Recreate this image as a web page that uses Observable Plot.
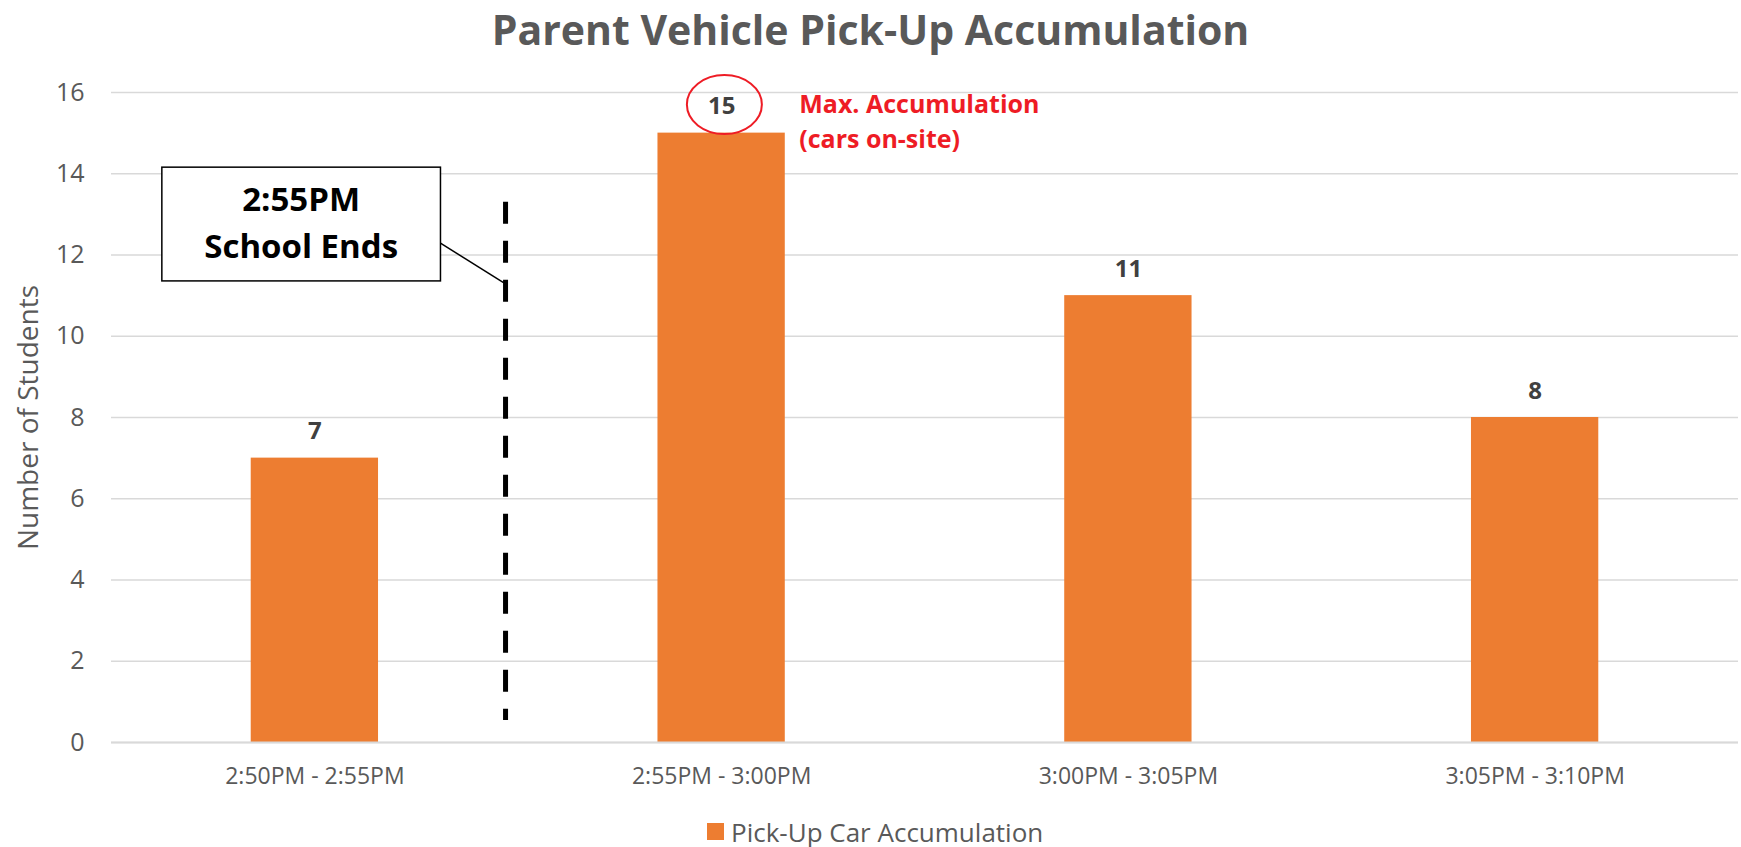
<!DOCTYPE html>
<html>
<head>
<meta charset="utf-8">
<script src="https://cdn.jsdelivr.net/npm/d3@7"></script>
<script src="https://cdn.jsdelivr.net/npm/@observablehq/plot@0.6"></script>
<style>
  html, body { margin: 0; padding: 0; background: #fff; width: 1741px; height: 847px; overflow: hidden; font-family: "Open Sans", sans-serif; }
  #title { height: 70px; line-height: 59px; text-align: center; font-weight: 700; font-size: 41px; color: #595959; white-space: nowrap; }
  #chart { height: 730px; }
  #legend { padding-left: 707px; height: 47px; }
  #legend > div { min-height: 63px !important; align-items: center; font-family: "Open Sans", sans-serif !important; font-size: 26px !important; color: #595959 !important; }
  #legend span { font-family: "Open Sans", sans-serif !important; font-size: 26px !important; color: #595959 !important; margin: 0 !important; }
  #legend svg { margin-right: 7px !important; }
</style>
</head>
<body>
<div id="title"></div>
<div id="chart"></div>
<div id="legend"></div>
<script>
// ---- data ----
const chartTitle = "Parent Vehicle Pick-Up Accumulation";
const timeSlots = ["2:50PM - 2:55PM", "2:55PM - 3:00PM", "3:00PM - 3:05PM", "3:05PM - 3:10PM"];
const pickUpCounts = [7, 15, 11, 8];
const seriesName = "Pick-Up Car Accumulation";
const yTicks = [0, 2, 4, 6, 8, 10, 12, 14, 16];
const yAxisLabel = "Number of Students";
const schoolEndsLines = ["2:55PM", "School Ends"];
const maxNoteLines = ["Max. Accumulation", "(cars on-site)"];

// ---- styles ----
const barColor = "#ED7D31";
const gridColor = "#D9D9D9";
const textColor = "#595959";
const labelColor = "#404040";
const noteRed = "#EE1C25";

const rows = timeSlots.map((slot, i) => ({slot, count: pickUpCounts[i], series: seriesName}));

document.getElementById("title").textContent = chartTitle;

const plot = Plot.plot({
  width: 1741,
  height: 730,
  marginLeft: 111,
  marginRight: 3,
  marginTop: 22,
  marginBottom: 58,
  style: {fontFamily: "Open Sans, sans-serif", color: textColor, background: "transparent", overflow: "visible"},
  x: {domain: timeSlots, paddingInner: 0.687, paddingOuter: 0.3435, round: false, label: null},
  y: {domain: [0, 16], label: null},
  color: {domain: [seriesName], range: [barColor]},
  marks: [
    Plot.gridY(yTicks, {stroke: gridColor, strokeOpacity: 1, strokeWidth: 1.5}),
    Plot.axisY(yTicks, {tickSize: 0, tickPadding: 27, fontSize: 25, label: null, fill: textColor}),
    Plot.axisX({tickSize: 0, tickPadding: 25, fontSize: 23, label: null, fill: textColor}),
    Plot.barY(rows, {x: "slot", y: "count", fill: "series"}),
    Plot.ruleY([0], {stroke: gridColor, strokeWidth: 2}),
    Plot.text(rows, {x: "slot", y: "count", text: d => String(d.count), lineAnchor: "bottom", dy: -19,
      fontSize: 24, fontWeight: "bold", fill: labelColor}),
    Plot.text([yAxisLabel], {frameAnchor: "left", rotate: -90, dx: -82, text: d => d, fontSize: 28,
      fill: textColor, textAnchor: "middle", lineAnchor: "middle"})
  ]
});
document.getElementById("chart").appendChild(plot);

// ---- annotations, placed through the plot's own scales ----
const sx = plot.scale("x"), sy = plot.scale("y");
const c0 = sx.apply(timeSlots[0]) + sx.bandwidth / 2;
const step = sx.apply(timeSlots[1]) - sx.apply(timeSlots[0]);
const X = i => c0 + i * step;   // fractional category index -> px
const Y = v => sy.apply(v);      // value -> px

const ann = {
  dashX: 0.47, dashTop: 13.3, dashBottom: 0.54,
  boxLeft: -0.375, boxRight: 0.31, boxTop: 14.15, boxBottom: 11.35,
  textBase1: 13.06, textBase2: 11.91,
  linkFrom: [0.31, 12.28], linkTo: [0.466, 11.3],
  ellipse: [1.008, 15.69],
  noteX: 1.192, noteBase1: 15.48, noteBase2: 14.62
};

const g = d3.select(plot).append("g").attr("class", "annotations");
g.append("line")
  .attr("x1", X(ann.linkFrom[0])).attr("y1", Y(ann.linkFrom[1]))
  .attr("x2", X(ann.linkTo[0])).attr("y2", Y(ann.linkTo[1]))
  .attr("stroke", "#000").attr("stroke-width", 1.5);
g.append("line")
  .attr("x1", X(ann.dashX)).attr("x2", X(ann.dashX))
  .attr("y1", Y(ann.dashTop)).attr("y2", Y(ann.dashBottom))
  .attr("stroke", "#000").attr("stroke-width", 5).attr("stroke-dasharray", "22 17");
g.append("rect")
  .attr("x", X(ann.boxLeft)).attr("y", Y(ann.boxTop))
  .attr("width", X(ann.boxRight) - X(ann.boxLeft)).attr("height", Y(ann.boxBottom) - Y(ann.boxTop))
  .attr("fill", "#fff").attr("stroke", "#000").attr("stroke-width", 1.5);
const bx = (X(ann.boxLeft) + X(ann.boxRight)) / 2;
[ann.textBase1, ann.textBase2].forEach((v, k) => {
  g.append("text").attr("x", bx).attr("y", Y(v)).attr("text-anchor", "middle")
    .attr("font-family", "Open Sans, sans-serif").attr("font-weight", "bold").attr("font-size", 33)
    .attr("fill", "#000").text(schoolEndsLines[k]);
});
g.append("ellipse")
  .attr("cx", X(ann.ellipse[0])).attr("cy", Y(ann.ellipse[1]))
  .attr("rx", 37.5).attr("ry", 29.5)
  .attr("fill", "none").attr("stroke", noteRed).attr("stroke-width", 2);
[ann.noteBase1, ann.noteBase2].forEach((v, k) => {
  g.append("text").attr("x", X(ann.noteX)).attr("y", Y(v)).attr("text-anchor", "start")
    .attr("font-family", "Open Sans, sans-serif").attr("font-weight", "bold").attr("font-size", 25)
    .attr("fill", noteRed).text(maxNoteLines[k]);
});

// ---- legend ----
const legend = Plot.legend({color: {domain: [seriesName], range: [barColor]}, swatchSize: 17});
document.getElementById("legend").appendChild(legend);
</script>
</body>
</html>
